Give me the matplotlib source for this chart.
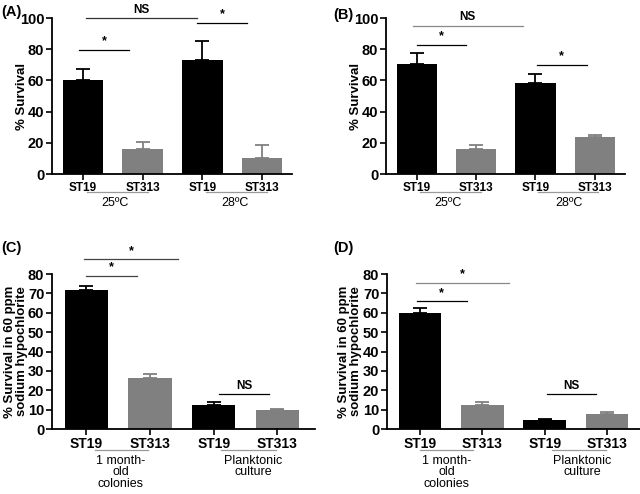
import matplotlib
matplotlib.use("Agg")
import matplotlib.pyplot as plt
import matplotlib.transforms as mtransforms

plt.rcParams['font.family'] = ['Liberation Sans', 'DejaVu Sans']

strains = ["ST19", "ST313", "ST19", "ST313"]

# Panel A
a_vals = [60, 16, 73, 10.5]
a_err = [7, 4.5, 12.5, 8]
a_groups = ["25ºC", "28ºC"]
# Panel B
b_vals = [70.5, 16, 58.5, 23.5]
b_err = [7, 2.5, 5.5, 1.5]
b_groups = ["25ºC", "28ºC"]
# Panel C
c_vals = [71.5, 26.5, 12.5, 10]
c_err = [2.5, 2, 1.3, 0.5]
c_groups = ["1 month-\nold\ncolonies", "Planktonic\nculture"]
# Panel D
d_vals = [60, 12.5, 4.5, 7.5]
d_err = [2.5, 1.5, 0.5, 1.5]
d_groups = ["1 month-\nold\ncolonies", "Planktonic\nculture"]

# significance annotations: (x0, x1, y, text, color)
a_sig = [(-0.07, 0.77, 79.5, "*", "black"), (0.05, 1.91, 100, "NS", "#333333"), (1.91, 2.75, 97, "*", "black")]
b_sig = [(0.0, 0.83, 82.7, "*", "black"), (-0.07, 1.79, 95, "NS", "#888888"), (2.02, 2.87, 70, "*", "black")]
c_sig = [(-0.03, 1.44, 87.7, "*", "#444444"), (0.0, 0.79, 79, "*", "#444444"), (2.08, 2.87, 18, "NS", "black")]
d_sig = [(-0.06, 1.42, 75.4, "*", "#888888"), (-0.05, 0.75, 66, "*", "black"), (2.03, 2.82, 18, "NS", "black")]

W, H = 640, 494
fig = plt.figure(figsize=(W / 100, H / 100), dpi=100)

BLACK = "#000000"
GRAY = "#808080"
colors = [BLACK, GRAY, BLACK, GRAY]


def make_ax(left, right, top, bottom):
    return fig.add_axes([left / W, 1 - bottom / H, (right - left) / W, (bottom - top) / H])


def panel(ax, vals, err, groups, sig, ymax, ystep, xlim, ylabel, letter, letter_xy,
          xtick_fs, underline, grp_xy, group_x, ylabel_x):
    x = list(range(len(vals)))
    ax.bar(x, vals, width=0.68, color=colors, edgecolor="none", zorder=2)
    for xi, v, e, c in zip(x, vals, err, colors):
        ax.errorbar([xi], [v], yerr=[[0], [e]], fmt="none", ecolor=c, elinewidth=1.3,
                    capsize=5, capthick=1.3, zorder=1)
    ax.set_xlim(*xlim)
    ax.set_ylim(0, ymax)
    ax.set_yticks(range(0, ymax + 1, ystep))
    ax.set_xticks(x)
    ax.set_xticklabels(strains, fontsize=xtick_fs, fontweight="bold")
    for lab in ax.get_yticklabels():
        lab.set_fontweight("bold")
        lab.set_fontsize(10.5)
    ax.spines["top"].set_visible(False)
    ax.spines["right"].set_visible(False)
    for s in ("left", "bottom"):
        ax.spines[s].set_linewidth(1.3)
    ax.tick_params(axis="both", direction="out", length=4, width=1.2, pad=1.5)
    ax.set_ylabel(ylabel, fontsize=9.5, fontweight="bold", linespacing=1.0)
    ax.yaxis.set_label_coords(ylabel_x, 0.5)
    trans = mtransforms.blended_transform_factory(ax.transData, ax.transAxes)
    for (x0, x1) in underline:
        ax.plot([x0, x1], [grp_xy[0], grp_xy[0]], color="#999999", lw=0.9,
                transform=trans, clip_on=False)
    for gx, g in zip(group_x, groups):
        ax.text(gx, grp_xy[1], g, transform=trans, ha="center", va="top",
                fontsize=9, linespacing=0.95)
    for (x0, x1, y, t, c) in sig:
        ax.plot([x0, x1], [y, y], color=c, lw=0.9, clip_on=False)
        ax.text((x0 + x1) / 2, y + ymax * 0.015, t, ha="center", va="bottom",
                fontsize=8.5 if t == "NS" else 9, fontweight="bold", clip_on=False)
    fig.text(letter_xy[0] / W, 1 - letter_xy[1] / H, letter, fontsize=10.5,
             fontweight="bold", ha="left", va="center")


axA = make_ax(52, 292, 18, 174)
panel(axA, a_vals, a_err, a_groups, a_sig, 100, 20, (-0.52, 3.5), "% Survival", "(A)", (1, 12),
      8.5, [(0.07, 1.09), (2.06, 3.08)], (-0.115, -0.15), [0.54, 2.55], -0.1)

axB = make_ax(386, 625, 18, 174)
panel(axB, b_vals, b_err, b_groups, b_sig, 100, 20, (-0.52, 3.51), "% Survival", "(B)", (333, 15),
      8.5, [(0.05, 1.08), (2.05, 3.05)], (-0.115, -0.15), [0.52, 2.56], -0.1)

axC = make_ax(52, 315, 274, 429)
panel(axC, c_vals, c_err, c_groups, c_sig, 80, 10, (-0.54, 3.59),
      "% Survival in 60 ppm\nsodium hypochlorite", "(C)", (1, 248),
      10, [(0.13, 0.97), (2.11, 2.97)], (-0.135, -0.165), [0.54, 2.62], -0.093)

axD = make_ax(387, 640, 274, 429)
panel(axD, d_vals, d_err, d_groups, d_sig, 80, 10, (-0.53, 3.53),
      "% Survival in 60 ppm\nsodium hypochlorite", "(D)", (333, 248),
      10, [(0.0, 0.85), (2.12, 2.98)], (-0.135, -0.165), [0.43, 2.60], -0.097)

fig.savefig("out.png", dpi=100)
